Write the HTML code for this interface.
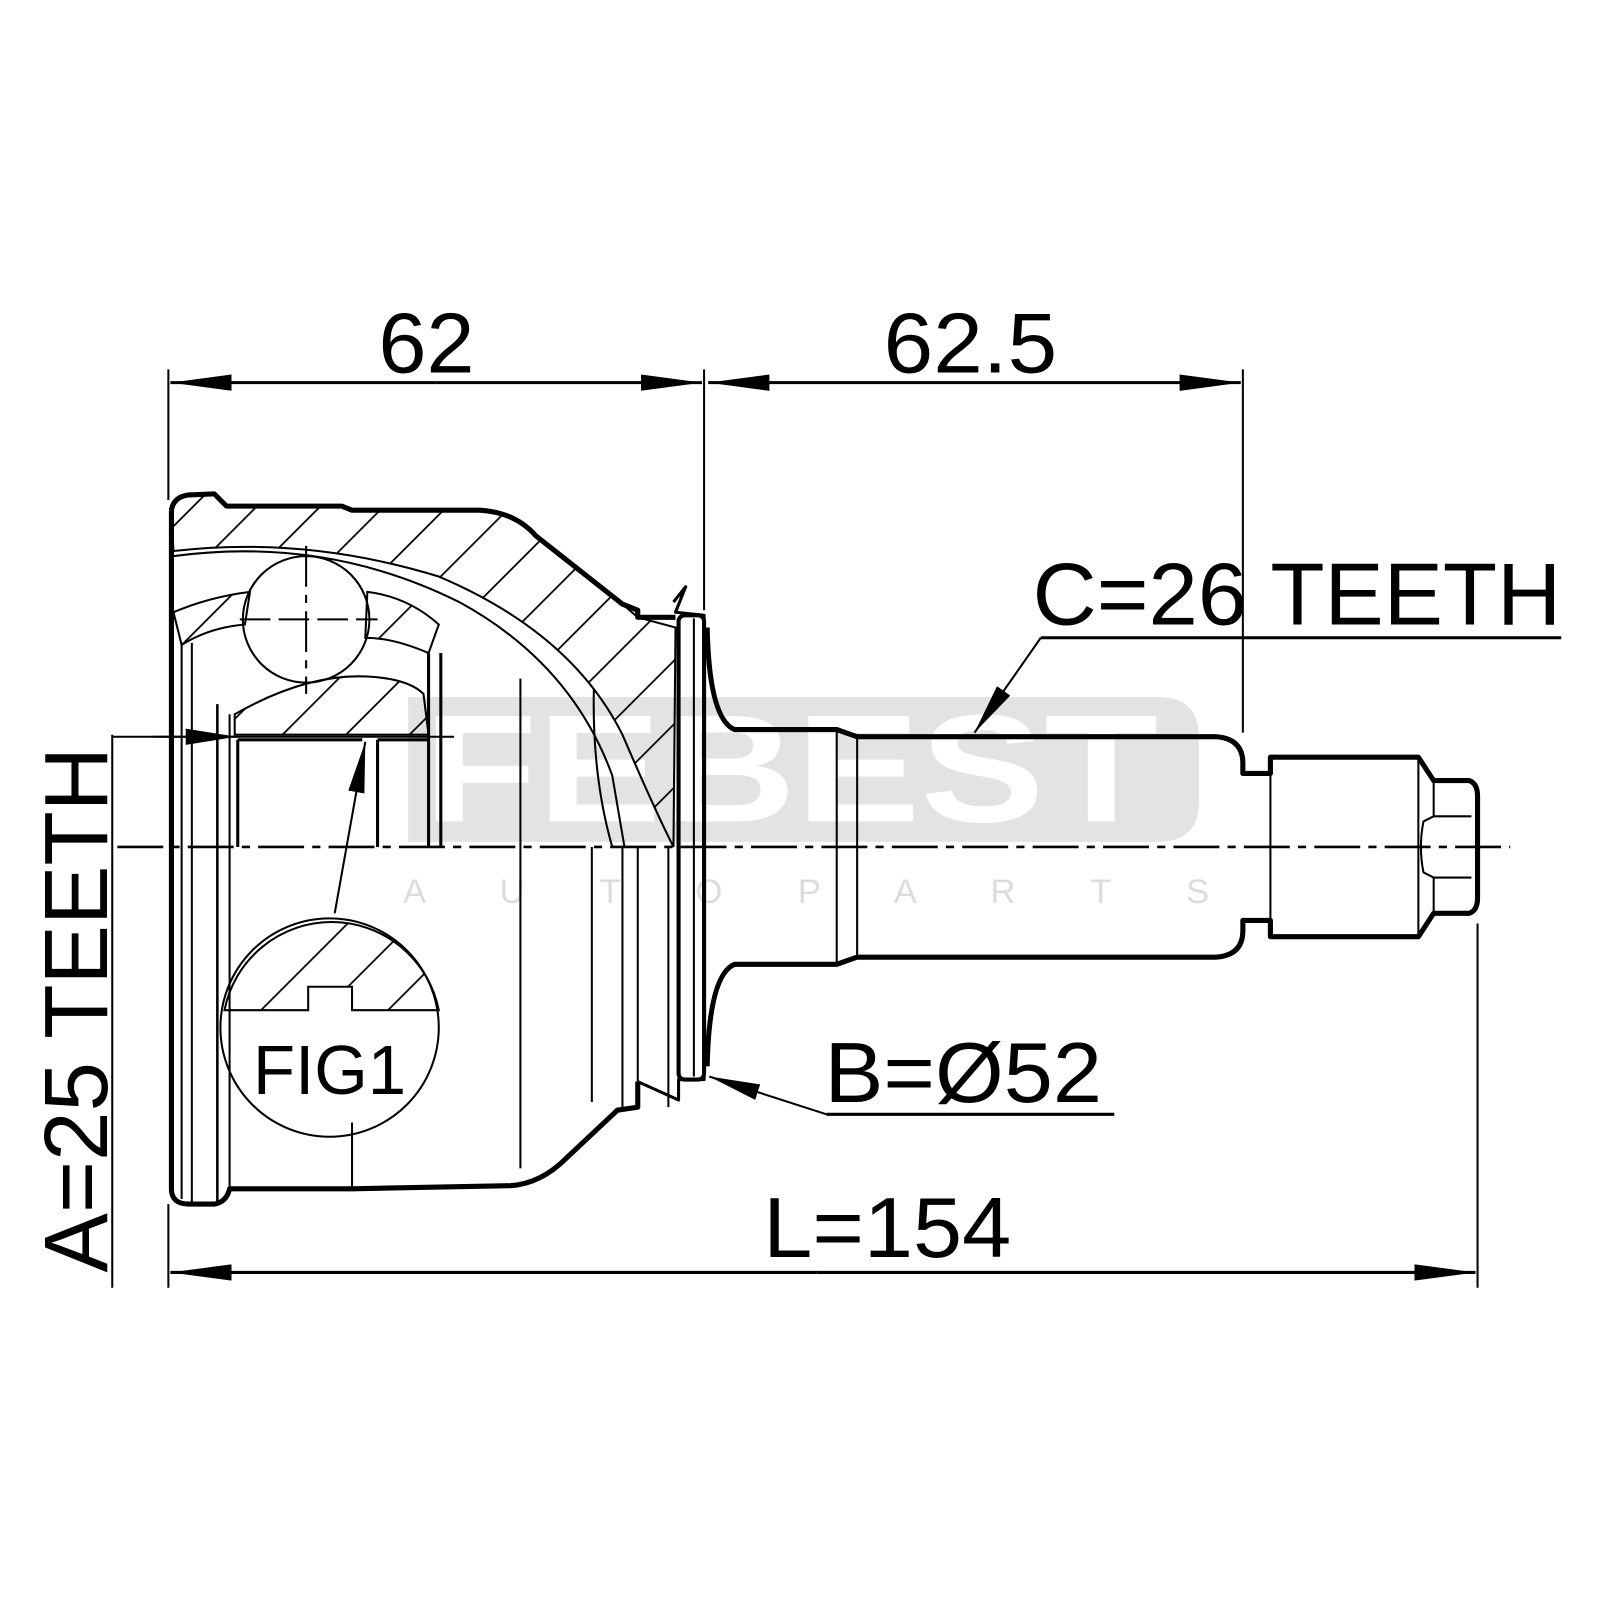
<!DOCTYPE html>
<html><head><meta charset="utf-8"><style>html,body{margin:0;padding:0;background:#fff}svg{display:block}</style></head>
<body>
<svg width="1600" height="1600" viewBox="0 0 1568 1568" xmlns="http://www.w3.org/2000/svg" font-family="Liberation Sans, sans-serif">
<defs>
<pattern id="h" patternUnits="userSpaceOnUse" width="44" height="44" patternTransform="rotate(45)">
<line x1="0" y1="0" x2="0" y2="44" stroke="#000" stroke-width="3.5"/>
</pattern>
<marker id="a" viewBox="0 0 60 16" refX="60" refY="8" markerWidth="60" markerHeight="16" markerUnits="userSpaceOnUse" orient="auto"><path d="M0,0 L60,8 L0,16 Z" fill="#000"/></marker>
<marker id="a2" viewBox="0 0 50 16" refX="50" refY="8" markerWidth="50" markerHeight="16" markerUnits="userSpaceOnUse" orient="auto"><path d="M0,0 L50,8 L0,16 Z" fill="#000"/></marker>
</defs>
<rect width="1568" height="1568" fill="#fff"/>

<path d="M400,683 L1135,683 Q1175,683 1175,723 L1175,785 Q1175,825 1135,825 L400,825 Z" fill="#e3e3e3"/>
<text x="415" y="805" font-size="150" font-weight="bold" fill="#fff" textLength="720" lengthAdjust="spacingAndGlyphs">FEBEST</text>
<text x="395" y="885" font-size="34" fill="#dcdcdc" textLength="790" lengthAdjust="spacing">A     U     T     O     P     A     R     T     S</text>

<g fill="url(#h)" stroke="#000" stroke-width="2">
<path d="M170,540 Q300,525 430,565 Q560,620 610,720 Q640,790 660,830 L662,615 L625,605 L610,592 L525,525 Q505,502 470,500 L345,500 L335,496 L222,496 L210,484 L185,485 Q170,487 168,500 Z"/>
<path d="M170,600 Q205,585 245,580 L240,612 Q205,615 178,632 Z"/>
<path d="M360,580 Q400,585 430,612 L420,640 Q385,625 358,625 Z"/>
<path d="M230,700 Q300,660 360,663 Q400,665 415,680 L420,720 L230,720 Z"/>
<path d="M220,990 L302,990 L302,967 L345,967 L345,990 L430,990 A107,107 0 0 0 220,990 Z"/>
</g>

<g fill="none" stroke="#000" stroke-linejoin="round">
<path d="M168,500 Q170,487 185,485 L210,484 L222,496 L335,496 L345,500 L470,500 Q505,502 525,525 L610,592 L625,598 L625,605 L662,605" stroke-width="5"/>
<path d="M168,500 L168,1165 Q168,1180 185,1180 L210,1180 Q222,1178 225,1165 L345,1165 L500,1162 Q530,1160 555,1135 L605,1088 L625,1085 L625,1060" stroke-width="5"/>
<path d="M625,1060 L665,1078 L665,1058 L690,1058 L690,603 L662,600 L672,575 L660,590" stroke-width="3"/>
<rect x="665" y="603" width="25" height="455" rx="6" stroke-width="4"/>
<line x1="680" y1="606" x2="680" y2="1055" stroke-width="2"/>
<line x1="178" y1="630" x2="178" y2="1175" stroke-width="2"/>
<line x1="188" y1="630" x2="188" y2="1178" stroke-width="2"/>
<line x1="213" y1="690" x2="213" y2="1178" stroke-width="2.5"/>
<line x1="225" y1="700" x2="225" y2="1165" stroke-width="2"/>
<line x1="233" y1="725" x2="233" y2="830" stroke-width="3"/>
<line x1="233" y1="725" x2="355" y2="725" stroke-width="3"/>
<line x1="370" y1="725" x2="420" y2="725" stroke-width="3"/>
<line x1="370" y1="725" x2="370" y2="830" stroke-width="3"/>
<line x1="420" y1="640" x2="420" y2="830" stroke-width="3"/>
<line x1="432" y1="640" x2="432" y2="830" stroke-width="3"/>
<line x1="345" y1="1100" x2="345" y2="1165" stroke-width="2"/>
<line x1="510" y1="665" x2="510" y2="1145" stroke-width="2"/>
<line x1="580" y1="830" x2="580" y2="1080" stroke-width="2"/>
<line x1="610" y1="830" x2="610" y2="1085" stroke-width="2"/>
<line x1="625" y1="830" x2="625" y2="1060" stroke-width="2"/>
<line x1="655" y1="830" x2="655" y2="1085" stroke-width="2"/>
<path d="M170,545 Q320,525 450,590 Q560,650 600,760 L612,830" stroke-width="2"/>
<path d="M582,675 Q580,760 600,830" stroke-width="2"/>
<circle cx="300" cy="607" r="62" stroke-width="2"/>
<line x1="300" y1="535" x2="300" y2="680" stroke-width="2" stroke-dasharray="40,8,8,8"/>
<line x1="235" y1="607" x2="370" y2="607" stroke-width="2" stroke-dasharray="30,8"/>
<circle cx="323" cy="1007" r="107" stroke-width="2"/>
</g>

<g fill="none" stroke="#000" stroke-linejoin="round">
<path d="M693,615 Q695,705 720,715 L820,715 L840,722 L1192,722 Q1218,724 1218,748 L1218,758 L1245,758 L1245,742 L1390,742 L1405,765 L1440,765 Q1448,768 1448,780 L1448,880 Q1448,892 1440,895 L1405,895 L1390,918 L1245,918 L1245,902 L1218,902 L1218,912 Q1218,936 1192,938 L840,938 L820,945 L720,945 Q695,955 693,1045" stroke-width="5"/>
<line x1="820" y1="715" x2="820" y2="945" stroke-width="2"/>
<line x1="840" y1="722" x2="840" y2="938" stroke-width="2"/>
<line x1="1245" y1="758" x2="1245" y2="902" stroke-width="2"/>
<line x1="1390" y1="742" x2="1390" y2="918" stroke-width="2"/>
<path d="M1405,765 L1405,800 L1395,805 Q1390,830 1395,855 L1405,860 L1405,895 M1405,800 L1442,800 M1405,860 L1442,860" stroke-width="2"/>
</g>

<line x1="115" y1="830" x2="1480" y2="830" stroke="#000" stroke-width="2.5" stroke-dasharray="45,8,8,8"/>

<g stroke="#000" fill="none">
<line x1="165" y1="362" x2="165" y2="490" stroke-width="2"/>
<line x1="690" y1="362" x2="690" y2="598" stroke-width="2"/>
<line x1="1218" y1="362" x2="1218" y2="718" stroke-width="2"/>
<line x1="428" y1="375" x2="167" y2="375" stroke-width="3" marker-end="url(#a)"/>
<line x1="428" y1="375" x2="688" y2="375" stroke-width="3" marker-end="url(#a)"/>
<line x1="955" y1="375" x2="694" y2="375" stroke-width="3" marker-end="url(#a)"/>
<line x1="955" y1="375" x2="1216" y2="375" stroke-width="3" marker-end="url(#a)"/>
<line x1="165" y1="1180" x2="165" y2="1262" stroke-width="2"/>
<line x1="1448" y1="905" x2="1448" y2="1262" stroke-width="2"/>
<line x1="800" y1="1247" x2="167" y2="1247" stroke-width="3" marker-end="url(#a)"/>
<line x1="800" y1="1247" x2="1446" y2="1247" stroke-width="3" marker-end="url(#a)"/>
<line x1="110" y1="720" x2="110" y2="1262" stroke-width="2"/>
<line x1="110" y1="722" x2="445" y2="722" stroke-width="2"/>
<line x1="150" y1="722" x2="232" y2="722" stroke-width="2" marker-end="url(#a2)"/>
<line x1="328" y1="895" x2="358" y2="727" stroke-width="2" marker-end="url(#a2)"/>
<line x1="1020" y1="625" x2="1530" y2="625" stroke-width="3"/>
<line x1="1020" y1="625" x2="955" y2="718" stroke-width="2" marker-end="url(#a2)"/>
<line x1="810" y1="1092" x2="1092" y2="1092" stroke-width="3"/>
<line x1="810" y1="1092" x2="695" y2="1055" stroke-width="2" marker-end="url(#a2)"/>
</g>

<g fill="#000">
<text x="371" y="365" font-size="84" textLength="94" lengthAdjust="spacingAndGlyphs">62</text>
<text x="866" y="365" font-size="84" textLength="170" lengthAdjust="spacingAndGlyphs">62.5</text>
<text x="1012" y="612" font-size="86" textLength="518" lengthAdjust="spacingAndGlyphs">C=26 TEETH</text>
<text x="808" y="1080" font-size="84" textLength="272" lengthAdjust="spacingAndGlyphs">B=Ø52</text>
<text x="748" y="1232" font-size="84" textLength="243" lengthAdjust="spacingAndGlyphs">L=154</text>
<text x="248" y="1072" font-size="68" textLength="150" lengthAdjust="spacingAndGlyphs">FIG1</text>
<text transform="translate(105,1247) rotate(-90)" font-size="88" textLength="515" lengthAdjust="spacingAndGlyphs">A=25 TEETH</text>
</g>
</svg>
</body></html>
